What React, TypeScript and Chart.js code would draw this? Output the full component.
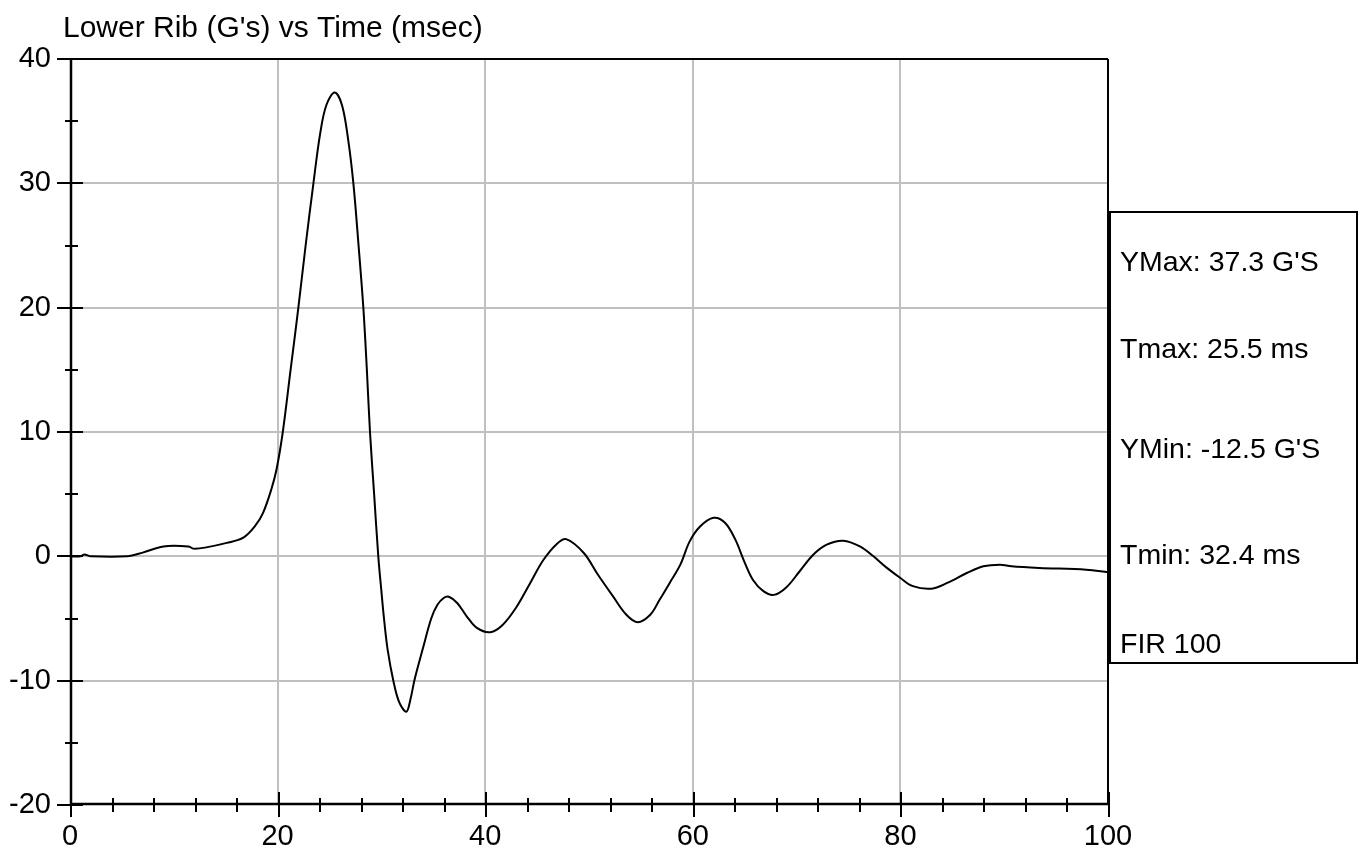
import React, { useEffect, useRef } from "react";
import { Chart, registerables } from "chart.js";

Chart.register(...registerables);

const TITLE = "Lower Rib (G's) vs Time (msec)";

const timeMs = [
  0, 1.0, 1.4, 2.0, 5.5, 7.0, 9.0, 11.4, 11.9, 13.0,
  15.1, 16.7, 17.8, 18.6, 19.4, 19.9, 20.5, 21.25, 22.0, 22.7,
  23.45, 24.1, 24.7, 25.5, 26.2, 26.8, 27.3, 27.8, 28.26, 28.6,
  28.9, 29.3, 29.7, 30.0, 30.25, 30.6, 31.15, 31.7, 32.4, 32.8,
  33.2, 34.0, 34.8, 35.4, 36.0, 36.5, 37.3, 38.2, 39.2, 40.5,
  41.7, 43.0, 44.3, 45.6, 46.9, 47.8, 49.5, 50.8, 52.3, 53.6,
  54.7, 55.9, 56.8, 57.8, 58.8, 59.7, 60.7, 62.0, 63.1, 64.1,
  65.0, 65.8, 66.8, 67.8, 69.0, 70.3, 71.6, 72.9, 74.5, 76.1,
  77.4, 78.7, 80.0, 81.2, 83.0, 84.5, 86.4, 88.0, 89.6, 90.7,
  93.4, 97.9, 100,
];

const lowerRibG = [
  0, 0, 0.15, 0, 0, 0.3, 0.8, 0.8, 0.62, 0.7,
  1.08, 1.5, 2.4, 3.5, 5.4, 7.0, 10.0, 15.0, 20.0, 25.0,
  30.0, 34.0, 36.3, 37.3, 36.3, 33.5, 30.0, 25.0, 20.0, 15.0,
  10.0, 5.0, 0, -2.8, -5.0, -7.5, -10.0, -11.7, -12.5, -11.5,
  -9.9, -7.4, -5.0, -3.9, -3.35, -3.25, -3.75, -4.8, -5.76, -6.1,
  -5.5, -4.1, -2.2, -0.3, 1.0, 1.38, 0.27, -1.4, -3.2, -4.7,
  -5.3, -4.7, -3.5, -2.1, -0.67, 1.2, 2.4, 3.1, 2.7, 1.34,
  -0.5, -1.9, -2.8, -3.1, -2.5, -1.2, 0.13, 0.94, 1.26, 0.8,
  0, -0.93, -1.74, -2.4, -2.6, -2.14, -1.34, -0.8, -0.67, -0.8,
  -0.93, -1.07, -1.29,
];

const X_MIN = 0;
const X_MAX = 100;
const X_MAJOR = 20;
const X_MINOR = 4;
const Y_MIN = -20;
const Y_MAX = 40;
const Y_MAJOR = 10;
const Y_MINOR = 5;

const statsLines = [
  "YMax: 37.3 G'S",
  "Tmax: 25.5 ms",
  "YMin: -12.5 G'S",
  "Tmin: 32.4 ms",
  "FIR 100",
];

const FONT = '"Liberation Sans", Arial, Helvetica, sans-serif';

const framePlugin = {
  id: "frame",
  afterDraw(chart: any) {
    const { ctx, chartArea: ca, scales } = chart;
    const xs = scales.x;
    const ys = scales.y;
    ctx.save();
    ctx.strokeStyle = "#000";
    ctx.lineCap = "butt";

    // top and right border
    ctx.lineWidth = 2;
    ctx.beginPath();
    ctx.moveTo(ca.left, ca.top);
    ctx.lineTo(ca.right, ca.top);
    ctx.moveTo(ca.right, ca.top);
    ctx.lineTo(ca.right, ca.bottom);
    ctx.stroke();

    // axes
    ctx.lineWidth = 2.5;
    ctx.beginPath();
    ctx.moveTo(ca.left + 1, ca.top - 1);
    ctx.lineTo(ca.left + 1, ca.bottom);
    ctx.moveTo(ca.left, ca.bottom - 1);
    ctx.lineTo(ca.right + 1, ca.bottom - 1);
    ctx.stroke();

    // x ticks
    ctx.lineWidth = 2;
    ctx.beginPath();
    for (let v = X_MIN; v <= X_MAX; v += X_MINOR) {
      const px = Math.round(xs.getPixelForValue(v)) + 1;
      const major = v % X_MAJOR === 0;
      const y0 = ca.bottom - 1;
      ctx.moveTo(px, y0 - (major ? 12 : 6));
      ctx.lineTo(px, y0 + (major ? 13 : 8));
    }
    // y ticks
    for (let v = Y_MIN; v <= Y_MAX; v += Y_MINOR) {
      const py = Math.round(ys.getPixelForValue(v));
      const major = v % Y_MAJOR === 0;
      const x0 = ca.left + 1;
      ctx.moveTo(x0 - (major ? 14 : 6), py);
      ctx.lineTo(x0 + (major ? 12 : 7), py);
    }
    ctx.stroke();

    // title
    ctx.fillStyle = "#000";
    ctx.font = `30px ${FONT}`;
    ctx.textAlign = "left";
    ctx.textBaseline = "alphabetic";
    ctx.fillText(TITLE, 63, 37);

    // stats box
    const bx = 1110;
    const by = 212;
    const bw = 247;
    const bh = 451;
    ctx.fillStyle = "#fff";
    ctx.fillRect(bx, by, bw, bh);
    ctx.lineWidth = 2;
    ctx.strokeRect(bx, by, bw, bh);
    ctx.fillStyle = "#000";
    ctx.font = `28.5px ${FONT}`;
    const baselines = [271, 358, 458, 564, 653];
    statsLines.forEach((s, i) => ctx.fillText(s, 1120, baselines[i]));
    ctx.restore();
  },
};

export default function App() {
  const ref = useRef<HTMLCanvasElement | null>(null);
  useEffect(() => {
    const canvas = ref.current;
    if (!canvas) return;
    const points = timeMs.map((t, i) => ({ x: t, y: lowerRibG[i] }));
    const chart = new Chart(canvas, {
      type: "line",
      data: {
        datasets: [
          {
            data: points,
            borderColor: "#000",
            borderWidth: 2,
            pointRadius: 0,
            fill: false,
            tension: 0.35,
          },
        ],
      },
      options: {
        animation: false,
        responsive: false,
        devicePixelRatio: 1,
        layout: { padding: { top: 59, right: 257, left: 0, bottom: 0 } },
        plugins: {
          legend: { display: false },
          title: { display: false },
          tooltip: { enabled: false },
        },
        scales: {
          x: {
            type: "linear",
            min: X_MIN,
            max: X_MAX,
            afterFit: (s: any) => {
              s.height = 47;
            },
            ticks: {
              stepSize: X_MAJOR,
              color: "#000",
              font: { family: FONT, size: 29 },
              padding: 15,
              maxRotation: 0,
              autoSkip: false,
            },
            grid: {
              drawTicks: false,
              lineWidth: 2,
              color: (c: any) =>
                c.tick && c.tick.value > X_MIN && c.tick.value < X_MAX ? "#c0c0c0" : "rgba(0,0,0,0)",
            },
            border: { display: false },
          },
          y: {
            min: Y_MIN,
            max: Y_MAX,
            afterFit: (s: any) => {
              s.width = 70;
            },
            ticks: {
              stepSize: Y_MAJOR,
              color: "#000",
              font: { family: FONT, size: 29 },
              padding: 19,
              autoSkip: false,
            },
            grid: {
              drawTicks: false,
              lineWidth: 2,
              color: (c: any) =>
                c.tick && c.tick.value > Y_MIN && c.tick.value < Y_MAX ? "#c0c0c0" : "rgba(0,0,0,0)",
            },
            border: { display: false },
          },
        },
      },
      plugins: [framePlugin],
    });
    return () => chart.destroy();
  }, []);

  return (
    <div style={{ position: "fixed", left: 0, top: 0, width: 1365, height: 852, background: "#fff" }}>
      <canvas ref={ref} width={1365} height={852} style={{ width: 1365, height: 852, display: "block" }} />
    </div>
  );
}
